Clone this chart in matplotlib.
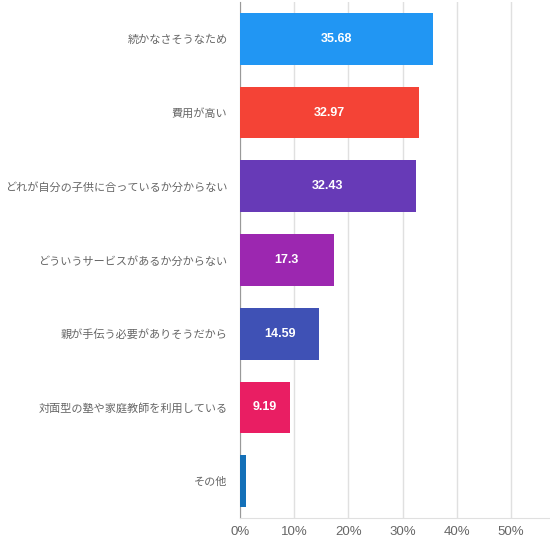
import matplotlib.pyplot as plt
from matplotlib.ticker import FuncFormatter

plt.rcParams['font.family'] = ['Noto Sans CJK JP', 'DejaVu Sans']

# Data
categories = [
    "続かなさそうなため",
    "費用が高い",
    "どれが自分の子供に合っているか分からない",
    "どういうサービスがあるか分からない",
    "親が手伝う必要がありそうだから",
    "対面型の塾や家庭教師を利用している",
    "その他",
]
values = [35.68, 32.97, 32.43, 17.3, 14.59, 9.19, 1.1]
value_labels = ["35.68", "32.97", "32.43", "17.3", "14.59", "9.19", ""]
ticks = [0, 10, 20, 30, 40, 50]

BAR_COLORS = ["#2196F3", "#F44336", "#673AB7", "#9C27B0", "#3F51B5", "#E91E63", "#1470B8"]
TEXT_GRAY = "#666666"
GRID_GRAY = "#E0E0E0"

fig = plt.figure(figsize=(5.5, 5.45), dpi=100)
ax = fig.add_axes([240 / 550, 27 / 545, 310 / 550, 516 / 545])

pos = list(range(len(categories)))
bars = ax.barh(pos, values, height=0.7, color=BAR_COLORS, zorder=3)

for bar, lab in zip(bars, value_labels):
    if lab:
        ax.text(bar.get_width() / 2, bar.get_y() + bar.get_height() / 2, lab,
                ha="center", va="center", color="white", fontsize=9,
                fontweight="bold", family="Liberation Sans", zorder=4)

ax.set_yticks(pos)
ax.set_yticklabels(categories, fontsize=8, color=TEXT_GRAY)
ax.set_ylim(len(categories) - 0.5, -0.5)

ax.set_xlim(0, 57.2)
ax.set_xticks(ticks)
ax.xaxis.set_major_formatter(FuncFormatter(lambda v, p: f"{int(v)}%"))
for t in ax.get_xticklabels():
    t.set_family("Liberation Sans")
ax.tick_params(axis="x", labelsize=9.5, colors=TEXT_GRAY, length=0, pad=6)
ax.tick_params(axis="y", length=0, pad=9)

ax.grid(axis="x", color=GRID_GRAY, linewidth=1, zorder=0)
for side in ["top", "right"]:
    ax.spines[side].set_visible(False)
ax.spines["left"].set_color("#999999")
ax.spines["bottom"].set_color(GRID_GRAY)

fig.savefig("out.png", dpi=100)
